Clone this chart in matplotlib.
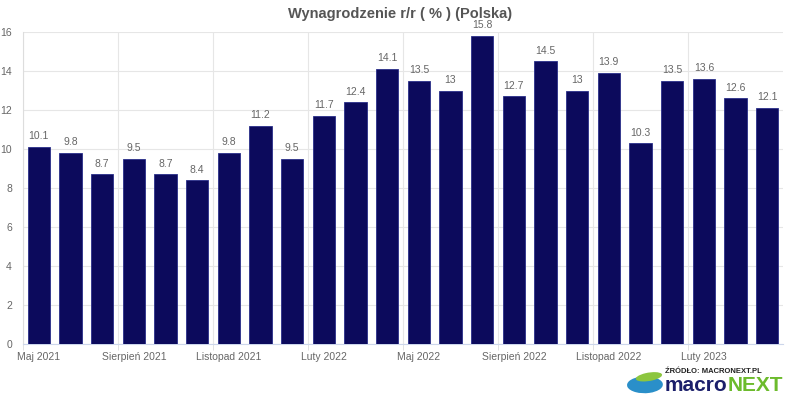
import matplotlib.pyplot as plt
from matplotlib.patches import Ellipse

months = ["Maj 2021", "Czerwiec 2021", "Lipiec 2021", "Sierpień 2021", "Wrzesień 2021",
          "Październik 2021", "Listopad 2021", "Grudzień 2021", "Styczeń 2022", "Luty 2022",
          "Marzec 2022", "Kwiecień 2022", "Maj 2022", "Czerwiec 2022", "Lipiec 2022",
          "Sierpień 2022", "Wrzesień 2022", "Październik 2022", "Listopad 2022",
          "Grudzień 2022", "Styczeń 2023", "Luty 2023", "Marzec 2023", "Kwiecień 2023"]
values = [10.1, 9.8, 8.7, 9.5, 8.7, 8.4, 9.8, 11.2, 9.5, 11.7, 12.4, 14.1,
          13.5, 13, 15.8, 12.7, 14.5, 13, 13.9, 10.3, 13.5, 13.6, 12.6, 12.1]
value_labels = ["10.1", "9.8", "8.7", "9.5", "8.7", "8.4", "9.8", "11.2", "9.5", "11.7", "12.4", "14.1",
                "13.5", "13", "15.8", "12.7", "14.5", "13", "13.9", "10.3", "13.5", "13.6", "12.6", "12.1"]
yticks = [0, 2, 4, 6, 8, 10, 12, 14, 16]

plt.rcParams['font.family'] = ['Liberation Sans', 'DejaVu Sans']

fig = plt.figure(figsize=(8, 4), dpi=100)
ax = fig.add_axes([0.02875, 0.14, 0.95, 0.78])

x = list(range(len(values)))
ax.bar(x, values, width=0.7, color="#0c0a5c", edgecolor="#2a2f8a", linewidth=0.6, zorder=3)

for xi, v, lab in zip(x, values, value_labels):
    ax.annotate(lab, (xi, v), xytext=(0, 4), textcoords="offset points",
                ha="center", va="bottom", fontsize=7.5, color="#666666")

ax.set_xlim(-0.5, len(values) - 0.5)
ax.set_ylim(0, 16)
ax.set_yticks(yticks)
ax.set_yticklabels([str(t) for t in yticks])

major = x[::3]
ax.set_xticks(major)
ax.set_xticklabels([months[i] for i in major])
ax.set_xticks([i - 0.5 for i in major], minor=True)

ax.tick_params(axis="x", which="major", length=0, pad=6, labelsize=7.5, labelcolor="#666666")
ax.tick_params(axis="x", which="minor", length=4, color="#dddddd")
ax.tick_params(axis="y", length=0, pad=8, labelsize=7.5, labelcolor="#666666")

ax.grid(axis="y", color="#e6e6e6", linewidth=0.8, zorder=0)
ax.grid(axis="x", which="minor", color="#e6e6e6", linewidth=0.8, zorder=0)
ax.grid(axis="x", which="major", visible=False)

for s in ["top", "right"]:
    ax.spines[s].set_visible(False)
ax.spines["left"].set_color("#dddddd")
ax.spines["bottom"].set_color("#ccd6eb")

fig.text(0.5, 0.965, "Wynagrodzenie r/r ( % ) (Polska)", ha="center", va="center",
         fontsize=10.5, fontweight="bold", color="#555555")

# logo, placed from the right edge
fig.canvas.draw()
t2 = fig.text(0.979, 0.036, "NEXT", fontsize=15, fontweight="bold", color="#6cbb2c",
              ha="right", va="center")
fig.canvas.draw()
bb2 = t2.get_window_extent().transformed(fig.transFigure.inverted())
t1 = fig.text(bb2.x0, 0.036, "macro", fontsize=15, fontweight="bold", color="#1b1f6b",
              ha="right", va="center")
fig.canvas.draw()
bb1 = t1.get_window_extent().transformed(fig.transFigure.inverted())
fig.text(bb1.x0, 0.072, "ŹRÓDŁO: MACRONEXT.PL", fontsize=5.5, fontweight="bold", color="#222222",
         ha="left", va="center")
fig.patches.append(Ellipse((bb1.x0 - 0.025, 0.038), 0.045, 0.042, angle=15, transform=fig.transFigure,
                           facecolor="#2a8fc9", edgecolor="none"))
fig.patches.append(Ellipse((bb1.x0 - 0.02, 0.058), 0.035, 0.02, angle=25, transform=fig.transFigure,
                           facecolor="#8cc63f", edgecolor="none"))

fig.savefig("out.png", dpi=100)
